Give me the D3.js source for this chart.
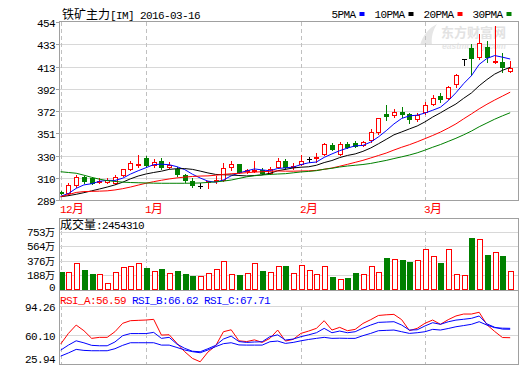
<!DOCTYPE html>
<html><head><meta charset="utf-8">
<script src="https://cdn.jsdelivr.net/npm/d3@7"></script>
<style>html,body{margin:0;padding:0;background:#fff;}svg{display:block;}</style>
</head><body>
<svg id="c" width="520" height="365"></svg>
<script>
// ---------- data ----------
const dates = ["2015-12-17","2015-12-18","2015-12-21","2015-12-22","2015-12-23","2015-12-24","2015-12-25","2015-12-28","2015-12-29","2015-12-30","2015-12-31",
"2016-01-04","2016-01-05","2016-01-06","2016-01-07","2016-01-08","2016-01-11","2016-01-12","2016-01-13","2016-01-14","2016-01-15","2016-01-18","2016-01-19","2016-01-20","2016-01-21","2016-01-22","2016-01-25","2016-01-26","2016-01-27","2016-01-28","2016-01-29",
"2016-02-01","2016-02-02","2016-02-03","2016-02-04","2016-02-05","2016-02-15","2016-02-16","2016-02-17","2016-02-18","2016-02-19","2016-02-22","2016-02-23","2016-02-24","2016-02-25","2016-02-26","2016-02-29",
"2016-03-01","2016-03-02","2016-03-03","2016-03-04","2016-03-07","2016-03-08","2016-03-09","2016-03-10","2016-03-11","2016-03-14","2016-03-15","2016-03-16"];
const open  = [296,295.5,303,310,309,305.5,306,305,312,318,321,327.5,321.5,325.5,320,318,312,307,302,305.5,307,308,320,322,315.5,315.5,317,314,320,325.5,319.5,322.5,326.7,328,331.6,340,331.6,340.5,341.5,340,344.6,352,368.5,367.8,370.9,368.5,363.8,370.3,378,385.4,383.3,396.5,419.4,429.6,421.8,431,417.3,417.2,408.6];
const high  = [297,305,312,311,310,309,309,312,318,325,330.5,330,327,328,324,320,313.5,309,304.5,307,311,323.6,325,322.5,318,325,319,320,328,327,323,330.5,329,332.5,341.5,342,342.8,343,344,344,354.5,365,377,373,375,369.5,370,380,386.3,388.5,394.5,405.5,419.4,433.6,442.6,436.7,450.3,425,418.1];
const low   = [294.5,294,301,305,303.5,304.5,305,304,311,317,320,319.5,320,318,318.5,311,306,301.5,300,300,305,306.5,317,314,314,314.5,313,313,319,318,317.5,321,324,324.5,331,335,331,337.5,338,339,343,350.5,363,365.7,366,360.6,362,369,377,380.3,382.5,394,414,404.9,420,417,416,408,408];
const close = [295.5,303,310.5,307,304.5,306.5,307.5,310,317.5,323.5,322,321.5,324.5,319.5,321,313,308,303,302,306.5,308,318.5,322,315,316.5,317,314,318,325.5,319.5,320.5,325.5,326.7,329,340.9,336.5,340.6,338.5,339.3,343,352,364.7,367,370.9,368.5,363.8,367.8,377,383.8,382.4,394,404.9,419.4,420.3,434.8,421.8,418.3,412,411.6];
const volume = [231,224,341,253,201,197,81,224,289,305,344,280,241,267,211,241,202,176,172,211,267,371,198,189,211,341,241,224,302,306,211,319,250,198,302,163,137,150,215,198,302,224,410,397,388,358,384,527,436,345,527,198,185,673,657,449,488,436,245];
const ma5  = [292.5,295,299.8,303,304.1,306.3,307.2,307.1,309.2,313,316.1,318.9,321.8,322.2,321.7,319.9,317.2,312.9,309.4,306.5,305.5,307.6,311.4,314,316,317.8,316.9,316.1,318.2,318.8,319.5,321.8,323.5,324.2,328.5,331.7,334.7,337.1,339.2,339.6,342.7,347.5,353.2,359.5,364.6,367,367.6,369.6,372.2,375,381,388.4,396.9,404.2,414.7,420.2,422.9,421.4,419.7];
const ma10 = [292,293,294.3,295.8,297.5,299.2,301,303,305.5,308.6,311.2,313.1,314.5,315.7,317.4,318,318.1,317.4,315.8,314.1,312.7,312.4,312.2,311.7,311.3,311.7,312.3,313.8,316.1,317.4,318.7,319.4,319.8,321.2,323.7,325.6,328.3,330.3,331.7,334.1,337.2,341.1,345.2,349.4,352.1,354.9,357.6,361.4,365.9,369.8,374,378,383.3,388.2,394.9,400.6,405.7,409.2,412];
const ma20 = [292,294,296,296.8,297,297.2,297.5,298.3,299.5,301,302.8,304.5,306,307.3,308.5,309.5,310.2,310.8,311.2,311.35,311.95,312.75,313.35,313.7,314.35,314.85,315.2,315.6,315.95,315.75,315.7,315.9,316,316.45,317.5,318.65,320.3,322.05,323.9,325.75,327.95,330.25,332.5,335.3,337.9,340.25,342.95,345.85,348.8,351.95,355.6,359.55,364.25,368.8,373.5,377.75,381.65,385.3,388.95];
const ma30 = [315.2,314.5,313.8,312,310,308.3,307,306.2,305.6,305.2,305,304.8,304.6,304.5,304.5,304.5,304.5,304.6,304.8,305.3,305.8,306.5,307.5,309,310.5,311.5,312.2,312.7,313.1,313.4,314.2,315,315.5,316.2,317.5,318.4,319.6,320.5,321.2,321.9,322.9,324.3,325.7,327.4,329,330.7,332.7,335.2,337.9,340.4,343.3,346.2,349.4,352.9,356.9,360.4,363.9,367,369.9];
const rsiA = [49,61.7,71.6,64.9,55.8,57,57,63.7,73.7,76.8,77.2,77.6,78.4,59.7,60.1,50,40,32,28,39.5,47,63.7,66,52.9,52,54,51,55.8,65.7,52.6,54.6,61.7,64.5,67.7,76.8,65.7,68.9,64.9,66.5,73.5,78,83,83.8,84.3,78,65,67.7,73.7,77.6,72.5,78,82.4,84.7,84.7,86.8,72,64,56.8,56.59];
const rsiB = [41.8,47.8,52.9,50.5,47.5,47,47,51.5,59,61.5,61.5,61.5,62.9,55.8,57,49,44,40.5,39.9,43.5,47.5,55,58.5,52,51,51.5,51.8,57.8,60,53.8,55,57.8,60,62.5,67.7,62.5,64.5,62.5,63.7,68,71.6,74.8,75.2,75.6,71.6,65.7,66,70.5,74.4,72.5,75.5,77.5,78.5,79.6,82.4,73,69,66.8,66.62];
const rsiC = [34.7,38.5,42.7,41.5,41.1,41.1,41.1,43.5,47.5,50.6,50.6,50.6,50.6,47.8,47.8,45,42,40,38.7,42,46,49.5,50.6,48,47.8,47.8,47.8,51.8,52.6,49.8,51,52.9,54.5,55.8,57,55.8,56,55.8,55.8,59,61.7,64.9,65.3,65.7,63.7,61.7,62.5,63.7,66.5,65.7,67.5,69.6,71,72.5,75.6,71.6,68.5,67.9,67.71];
const priceTicks = [454,433,413,392,372,351,330,310,289];
const volTicks = ["753万","564万","376万","188万","0"];
const rsiTicks = ["94.26","60.10","25.94"];
const monthLabels = ["12月","1月","2月","3月"];
const maNames = ["5PMA","10PMA","20PMA","30PMA"];
const rsiNames = ["RSI_A","RSI_B","RSI_C"];
const titleText = "铁矿主力[IM] 2016-03-16";
const volLabel = "成交量";
const lastVolume = 2454310;
const watermark = ["东方财富网","eastmoney.com"];

// ---------- styles ----------
const RED = "#ff0000", GREEN = "#008000", BLUE = "#0000ff", BLACK = "#000000";
const maColors = [BLUE, BLACK, RED, GREEN];
const rsiColors = [RED, BLUE, BLUE];
const BORDER = "#a0a0a0", GRID = "#d8d8d8", DASH = "#c0c0c0";

const svg = d3.select("#c");
const L = 59.5, R = 518.5;

function mtext(g, str, x, y, fill, anchor, cjkSize) {
  const t = g.append("text").attr("x", x).attr("y", y).attr("fill", fill || BLACK)
    .attr("text-anchor", anchor || "start");
  const runs = str.match(/[\u3000-\u9fff\uff00-\uffef]+|[^\u3000-\u9fff\uff00-\uffef]+/g);
  runs.forEach(r => {
    const cjk = /[\u3000-\u9fff\uff00-\uffef]/.test(r);
    t.append("tspan").text(r)
      .attr("font-family", cjk ? "'Noto Sans CJK SC'" : "'Liberation Mono'")
      .attr("font-size", cjk ? (cjkSize || 12) : 11)
      .style("letter-spacing", cjk ? "0px" : "-0.6px");
  });
  return t;
}

// scales
const x = d3.scaleBand().domain(dates).range([56.8, 514.05]).padding(0);
const cx = i => x(dates[i]) + x.bandwidth() / 2;
const px = i => Math.round(cx(i));
const y = d3.scaleLinear().domain([289, 454]).range([200, 22]);
const vy = d3.scaleLinear().domain([0, 753]).range([289.5, 231.5]);
const ry = d3.scaleLinear().domain([25.94, 94.26]).range([363.5, 306]);

// month ticks
const monthIdx = [];
dates.forEach((d, i) => { if (i === 0 || d.slice(0, 7) !== dates[i - 1].slice(0, 7)) monthIdx.push(i); });

// ---------- watermark ----------
const wm = svg.append("g");
wm.append("path").attr("d", "M420,45 C423,35 429,28 437,24 C433,30 431,37 432,45 Z").attr("fill", "#e6e6e6");
wm.append("text").attr("x", 441).attr("y", 36.5).attr("font-family", "'Noto Sans CJK SC'")
  .attr("font-size", 13).attr("font-weight", "bold").attr("fill", "#e2e2e2").text(watermark[0]);
wm.append("text").attr("x", 442).attr("y", 48.5).attr("font-family", "'Liberation Sans'")
  .attr("font-size", 8.5).attr("font-weight", "bold").attr("font-style", "italic").attr("fill", "#e6e6e6").text(watermark[1]);

// ---------- main panel ----------
const gm = svg.append("g").attr("shape-rendering", "crispEdges");
const pStep = (454 - 289) / 8;
priceTicks.forEach((lab, k) => {
  const yy = Math.round(y(454 - k * pStep)) + 0.5;
  if (k > 0 && k < 8) gm.append("line").attr("x1", L).attr("x2", R).attr("y1", yy).attr("y2", yy).attr("stroke", GRID);
  gm.append("line").attr("x1", L - 4).attr("x2", L).attr("y1", yy).attr("y2", yy).attr("stroke", BORDER);
  mtext(svg, String(lab), 55, yy + 4, BLACK, "end");
});
monthIdx.forEach(i => {
  const xx = px(i) + 0.5;
  [[22, 200], [231, 289], [306, 364]].forEach(([a, b]) =>
    gm.append("line").attr("x1", xx).attr("x2", xx).attr("y1", a).attr("y2", b)
      .attr("stroke", DASH).attr("stroke-dasharray", "4,3"));
});
monthIdx.forEach((i, k) => mtext(svg, monthLabels[k], px(i) - 1, 213, RED));

// candles
dates.forEach((d, i) => {
  const c = px(i), o = open[i], cl = close[i];
  const col = cl > o ? RED : (cl < o ? GREEN : BLACK);
  gm.append("line").attr("x1", c + 0.5).attr("x2", c + 0.5)
    .attr("y1", Math.round(y(high[i]))).attr("y2", Math.round(y(low[i])) + 1).attr("stroke", col);
  const yt = Math.round(y(Math.max(o, cl))), yb = Math.round(y(Math.min(o, cl)));
  if (cl > o) {
    gm.append("rect").attr("x", c - 1.5).attr("y", yt + 0.5).attr("width", 4).attr("height", Math.max(1, yb - yt))
      .attr("fill", "#fff").attr("stroke", RED);
  } else if (cl < o) {
    gm.append("rect").attr("x", c - 2).attr("y", yt).attr("width", 5).attr("height", Math.max(1, yb - yt + 1)).attr("fill", GREEN);
  } else {
    gm.append("line").attr("x1", c - 2).attr("x2", c + 3).attr("y1", yt + 0.5).attr("y2", yt + 0.5).attr("stroke", BLACK);
  }
});

// moving averages
[ma5, ma10, ma20, ma30].forEach((arr, k) => {
  svg.append("path").datum(arr)
    .attr("d", d3.line().x((v, i) => cx(i)).y(v => y(v)))
    .attr("fill", "none").attr("stroke", maColors[k]).attr("stroke-width", 1);
});

// title + legend
mtext(svg, titleText, 62, 19, BLACK);
let lx = 331.5;
maNames.forEach((n, k) => {
  mtext(svg, n, lx, 18, BLACK);
  const rx = lx + n.length * 6 + 4;
  svg.append("rect").attr("x", rx).attr("y", 12).attr("width", 5).attr("height", 4).attr("fill", maColors[k]);
  lx = rx + 15;
});

// ---------- volume panel ----------
const gv = svg.append("g").attr("shape-rendering", "crispEdges");
volTicks.forEach((lab, k) => {
  const val = 753 - k * 753 / 4;
  const yy = Math.round(vy(val)) + 0.5;
  if (k < 4) gv.append("line").attr("x1", L).attr("x2", R).attr("y1", yy).attr("y2", yy).attr("stroke", GRID);
  mtext(svg, lab, 55, k < 4 ? yy + 3.5 : 290.5, BLACK, "end", 10);
});
volume.forEach((v, i) => {
  const c = px(i);
  const up = close[i] >= open[i];
  const yt = Math.round(vy(v));
  if (up) {
    gv.append("rect").attr("x", c - 1.5).attr("y", yt + 0.5).attr("width", 5).attr("height", 289 - yt)
      .attr("fill", "#fff").attr("stroke", RED);
  } else {
    gv.append("rect").attr("x", c - 2).attr("y", yt).attr("width", 6).attr("height", 290 - yt).attr("fill", GREEN);
  }
});
mtext(svg, volLabel + ":" + lastVolume, 60, 229, BLACK);

// ---------- RSI panel ----------
const gr = svg.append("g").attr("shape-rendering", "crispEdges");
rsiTicks.forEach((lab, k) => {
  const val = 94.26 - k * (94.26 - 25.94) / 2;
  const yy = Math.round(ry(val)) + 0.5;
  if (k < 2) gr.append("line").attr("x1", L).attr("x2", R).attr("y1", yy).attr("y2", yy).attr("stroke", GRID);
  mtext(svg, lab, 55, Math.min(yy + 4, 363), BLACK, "end");
});
[rsiA, rsiB, rsiC].forEach((arr, k) => {
  svg.append("path").datum(arr)
    .attr("d", d3.line().x((v, i) => cx(i)).y(v => ry(v)))
    .attr("fill", "none").attr("stroke", rsiColors[k]).attr("stroke-width", 1);
});
let rx0 = 60;
[rsiA, rsiB, rsiC].forEach((arr, k) => {
  const s = rsiNames[k] + ":" + arr[arr.length - 1].toFixed(2);
  mtext(svg, s, rx0, 303.5, rsiColors[k]);
  rx0 += s.length * 6 + 6;
});

// ---------- panel borders ----------
const gb = svg.append("g").attr("shape-rendering", "crispEdges").attr("fill", "none").attr("stroke", BORDER);
gb.append("rect").attr("x", L).attr("y", 21.5).attr("width", R - L).attr("height", 179);
gb.append("rect").attr("x", L).attr("y", 218.5).attr("width", R - L).attr("height", 72);
gb.append("rect").attr("x", L).attr("y", 290.5).attr("width", R - L).attr("height", 74);
</script>
</body></html>
